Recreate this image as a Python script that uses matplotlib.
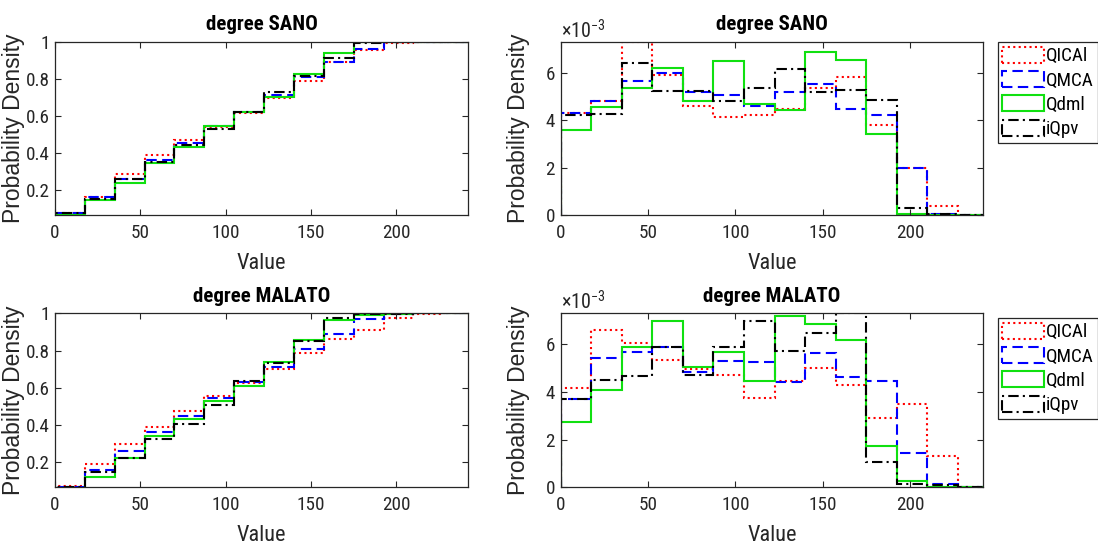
import numpy as np
import matplotlib
matplotlib.use("Agg")
import matplotlib.pyplot as plt
from matplotlib import font_manager
from matplotlib.patches import Patch
from matplotlib.ticker import ScalarFormatter, FuncFormatter

# ---- data -------------------------------------------------------------
bin_edges = np.arange(15) * 17.5          # 14 bins of width 17.5
series_names = ["QICAl", "QMCA", "Qdml", "iQpv"]

# probability density per bin (units of 1e-3)
sano_pdf_qical = [4.30, 4.83, 7.30, 5.93, 4.62, 4.14, 4.21, 4.50, 5.35, 5.83, 3.79, 2.00, 0.40, 0.00]
sano_pdf_qmca  = [4.33, 4.83, 5.65, 6.00, 5.20, 5.08, 4.59, 5.20, 5.55, 4.49, 4.24, 1.98, 0.05, 0.00]
sano_pdf_qdml  = [3.60, 4.56, 5.37, 6.21, 4.83, 6.53, 4.70, 4.45, 6.89, 6.57, 3.43, 0.03, 0.00, 0.00]
sano_pdf_iqpv  = [4.24, 4.28, 6.43, 5.23, 5.23, 4.83, 5.37, 6.17, 5.18, 5.30, 4.84, 0.30, 0.03, 0.00]

malato_pdf_qical = [4.18, 6.60, 6.06, 5.35, 4.95, 4.71, 3.76, 4.45, 4.99, 4.28, 2.91, 3.50, 1.30, 0.00]
malato_pdf_qmca  = [3.70, 5.42, 5.66, 5.87, 4.85, 5.30, 5.25, 4.43, 5.63, 4.64, 4.47, 1.45, 0.15, 0.00]
malato_pdf_qdml  = [2.72, 4.10, 5.87, 6.98, 5.06, 5.66, 4.45, 7.19, 6.84, 6.17, 1.73, 0.25, 0.02, 0.00]
malato_pdf_iqpv  = [3.69, 4.50, 4.67, 5.87, 4.71, 5.87, 6.98, 5.70, 6.48, 7.30, 1.05, 0.12, 0.10, 0.00]

# cumulative distribution per bin
sano_cdf_qical = [0.075, 0.160, 0.287, 0.391, 0.470, 0.543, 0.617, 0.697, 0.790, 0.893, 0.959, 0.994, 1.0, 1.0]
sano_cdf_qmca  = [0.076, 0.160, 0.259, 0.364, 0.455, 0.544, 0.624, 0.715, 0.813, 0.891, 0.965, 0.999, 1.0, 1.0]
sano_cdf_qdml  = [0.063, 0.143, 0.238, 0.346, 0.430, 0.546, 0.624, 0.702, 0.826, 0.940, 1.0, 1.0, 1.0, 1.0]
sano_cdf_iqpv  = [0.074, 0.150, 0.261, 0.352, 0.445, 0.529, 0.622, 0.728, 0.820, 0.913, 0.998, 1.0, 1.0, 1.0]

malato_cdf_qical = [0.073, 0.189, 0.295, 0.389, 0.474, 0.558, 0.623, 0.700, 0.786, 0.860, 0.912, 0.975, 0.998, 1.0]
malato_cdf_qmca  = [0.065, 0.157, 0.259, 0.361, 0.448, 0.543, 0.630, 0.713, 0.810, 0.891, 0.968, 0.996, 1.0, 1.0]
malato_cdf_qdml  = [0.048, 0.121, 0.220, 0.342, 0.432, 0.531, 0.612, 0.737, 0.855, 0.963, 0.992, 0.998, 1.0, 1.0]
malato_cdf_iqpv  = [0.065, 0.145, 0.222, 0.324, 0.407, 0.509, 0.635, 0.735, 0.850, 0.975, 0.995, 0.998, 1.0, 1.0]

x_ticks = [0, 50, 100, 150, 200]
cdf_ticks = [0.2, 0.4, 0.6, 0.8, 1.0]
pdf_ticks = [0, 2e-3, 4e-3, 6e-3]

# ---- fonts: prefer a narrow sans face for the horizontal text ------------
entries = font_manager.fontManager.ttflist
names = {e.name for e in entries}


def is_condensed(e):
    s = str(e.stretch).lower()
    return "condensed" in s or "narrow" in s or s in ("500", "600") is False and False


narrow_family, narrow_stretch = "Liberation Sans", "normal"
if "Liberation Sans Narrow" in names:
    narrow_family = "Liberation Sans Narrow"
elif "Roboto Condensed" in names:
    narrow_family = "Roboto Condensed"
elif any(e.name == "DejaVu Sans" and "condensed" in str(e.stretch).lower() for e in entries):
    narrow_family, narrow_stretch = "DejaVu Sans", "condensed"
elif any(e.name == "Noto Sans" and "condensed" in str(e.stretch).lower() for e in entries):
    narrow_family, narrow_stretch = "Noto Sans", "condensed"

plt.rcParams["font.family"] = [narrow_family, "DejaVu Sans"]
plt.rcParams["font.stretch"] = narrow_stretch
plt.rcParams["mathtext.fontset"] = "custom"
plt.rcParams["mathtext.rm"] = narrow_family
plt.rcParams["mathtext.default"] = "regular"

colors = ["#ff0000", "#0000ff", "#10e010", "#000000"]
styles = [(0, (1.0, 1.6)), (0, (5.0, 2.6)), "-", (0, (5.0, 2.0, 1.0, 2.0))]
ink = "#262626"
LW = 1.5

fig = plt.figure(figsize=(10.98, 5.46), dpi=100)
W, H = 1098.0, 546.0


def px_axes(x0, y0, x1, y1):
    return fig.add_axes([x0 / W, 1 - y1 / H, (x1 - x0) / W, (y1 - y0) / H])


ax_cdf_top = px_axes(55, 42.3, 468, 215)
ax_pdf_top = px_axes(560.7, 42.3, 983.3, 215)
ax_cdf_bot = px_axes(55, 313.3, 468, 487.3)
ax_pdf_bot = px_axes(560.7, 313.3, 983.3, 487.3)


def style_axes(ax, title, title_pad):
    ax.set_xlim(0, 242)
    ax.set_xticks(x_ticks)
    ax.tick_params(direction="in", length=4, width=0.8, top=True, right=True,
                   labelsize=13.8, colors=ink)
    ax.tick_params(axis="x", pad=6.5)
    ax.tick_params(axis="y", pad=3.5)
    for sp in ax.spines.values():
        sp.set_color(ink)
        sp.set_linewidth(0.9)
    ax.set_title(title, fontsize=15, fontweight="bold", pad=title_pad)
    ax.set_xlabel("Value", fontsize=16, color=ink, labelpad=8)
    ax.set_ylabel("Probability Density", fontsize=16.5, color=ink,
                  family=["Liberation Sans", "DejaVu Sans"], stretch="normal")
    ax.yaxis.set_label_coords(-0.073, 0.5)


def draw_cdf(ax, series, title, ymin, title_pad):
    for vals, c, ls in zip(series, colors, styles):
        ax.stairs(vals, bin_edges, baseline=0, color=c, linestyle=ls, lw=LW)
    style_axes(ax, title, title_pad)
    ax.set_ylim(ymin, 1.0)
    ax.set_yticks(cdf_ticks)
    ax.yaxis.set_major_formatter(FuncFormatter(lambda v, _: f"{v:g}"))


def draw_pdf(ax, series, title, title_pad, legend_top):
    scaled = [np.asarray(v) * 1e-3 for v in series]
    for vals, c, ls in zip(scaled, colors, styles):
        ax.stairs(vals, bin_edges, baseline=0, color=c, linestyle=ls, lw=LW)
    style_axes(ax, title, title_pad)
    ax.set_ylim(0, max(v.max() for v in scaled))
    ax.set_yticks(pdf_ticks)
    fmt = ScalarFormatter(useMathText=True)
    fmt.set_powerlimits((-2, 2))
    ax.yaxis.set_major_formatter(fmt)
    ax.yaxis.get_offset_text().set_fontsize(14.5)
    ax.yaxis.get_offset_text().set_color(ink)
    ax.yaxis.set_label_coords(-0.072, 0.5)
    handles = [Patch(facecolor="none", edgecolor=c, linestyle=ls, lw=LW)
               for c, ls in zip(colors, styles)]
    leg = ax.legend(handles, series_names, loc="upper left",
                    bbox_to_anchor=(997.7 / W, 1 - legend_top / H),
                    bbox_transform=fig.transFigure, fontsize=13.8,
                    frameon=True, fancybox=False, framealpha=1,
                    edgecolor=ink, handlelength=2.15, handleheight=0.9,
                    handletextpad=0.1, labelspacing=0.3, borderpad=0.25,
                    borderaxespad=0)
    leg.get_frame().set_linewidth(0.9)


draw_cdf(ax_cdf_top, [sano_cdf_qical, sano_cdf_qmca, sano_cdf_qdml, sano_cdf_iqpv],
         "degree SANO", 0.064, 9)
draw_pdf(ax_pdf_top, [sano_pdf_qical, sano_pdf_qmca, sano_pdf_qdml, sano_pdf_iqpv],
         "degree SANO", 9, 42)
draw_cdf(ax_cdf_bot, [malato_cdf_qical, malato_cdf_qmca, malato_cdf_qdml, malato_cdf_iqpv],
         "degree MALATO", 0.065, 8.4)
draw_pdf(ax_pdf_bot, [malato_pdf_qical, malato_pdf_qmca, malato_pdf_qdml, malato_pdf_iqpv],
         "degree MALATO", 8.4, 318)

fig.savefig("out.png", dpi=100)
